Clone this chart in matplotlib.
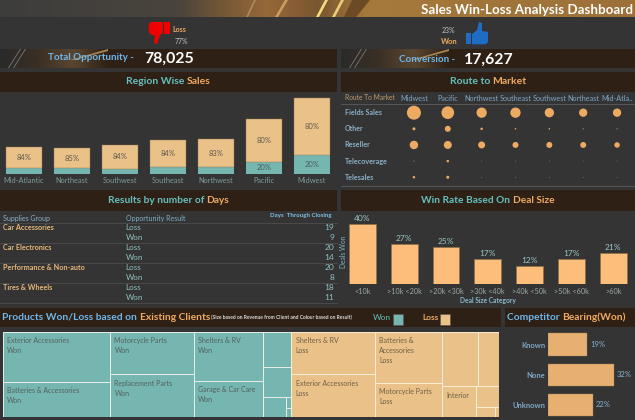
import matplotlib
matplotlib.use("Agg")
import numpy as np
import matplotlib.pyplot as plt
from matplotlib.colors import LinearSegmentedColormap
from matplotlib.patches import Rectangle, Polygon

plt.rcParams["font.family"] = ["Lato", "DejaVu Sans"]

W, H = 635, 420

BG = "#343434"
STRIP = "#2e2015"
TEAL = "#75b6b0"
TAN = "#eac188"
ORANGE = "#f0aa62"
BLUE = "#6fb6ea"
TEALTXT = "#66c0c0"
GREYTXT = "#b9c2c4"

# data
regions = ["Mid-Atlantic", "Northeast", "Southwest", "Southeast", "Northwest", "Pacific", "Midwest"]
region_won = [5.7, 5.7, 5.0, 7.0, 7.0, 12.3, 19.0]
region_loss = [21.6, 20.6, 24.3, 26.7, 27.7, 42.7, 57.3]
region_loss_pct = ["84%", "85%", "84%", "84%", "83%", "80%", "80%"]
region_won_pct = ["", "", "", "", "", "20%", "20%"]

route_cols = ["Midwest", "Pacific", "Northwest", "Southeast", "Southwest", "Northeast", "Mid-Atla.."]
route_rows = ["Fields Sales", "Other", "Reseller", "Telecoverage", "Telesales"]
route_sizes = [
    [14.0, 12.7, 10.3, 10.3, 9.3, 8.3, 8.3],
    [3.0, 6.0, 2.5, 1.5, 1.5, 1.0, 1.0],
    [8.5, 8.0, 7.0, 6.0, 6.0, 6.0, 5.5],
    [1.0, 2.5, 0.7, 0.7, 0.7, 0.7, 0.7],
    [2.5, 3.0, 0.7, 0.7, 0.7, 0.7, 0.7],
]

supply_groups = ["Car Accessories", "Car Electronics", "Performance & Non-auto", "Tires & Wheels"]
days_loss = [19, 20, 20, 18]
days_won = [9, 14, 8, 11]

deal_sizes = ["<10k", ">10k <20k", ">20k <30k", ">30k <40k", ">40k <50k", ">50k <60k", ">60k"]
deal_rates = [40, 27, 25, 17, 12, 17, 21]

competitors = ["Known", "None", "Unknown"]
competitor_rates = [19, 32, 22]

# treemap: columns of revenue, nested lists switch split direction
won_tree = [
    [53.5, 37.5],
    [35.5, 35.5],
    [33.8, 24.8],
    [10.0, 8.6, [4.7, [0.55, 0.45]]],
]
won_labels = ["Exterior Accessories\nWon", "Batteries & Accessories\nWon",
              "Motorcycle Parts\nWon", "Replacement Parts\nWon",
              "Shelters & RV\nWon", "Garage & Car Care\nWon",
              "", "", "", "", ""]
loss_tree = [
    [35.5, 35.5],
    [34.2, 22.8],
    [[19.3, 11.7], [10.2, [4.9, [1.85, 0.38]]]],
]
loss_labels = ["Shelters & RV\nLoss", "Exterior Accessories\nLoss",
               "Batteries &\nAccessories\nLoss", "Motorcycle Parts\nLoss",
               "", "", "Interior", "", "", ""]


def px_axes(x0, y0, x1, y1):
    ax = fig.add_axes([x0 / W, 1 - y1 / H, (x1 - x0) / W, (y1 - y0) / H])
    ax.patch.set_alpha(0)
    for s in ax.spines.values():
        s.set_visible(False)
    ax.tick_params(length=0)
    return ax


def tone_text(parts, x, y, center=False):
    # parts are (text, colour, size, weight)
    r = fig.canvas.get_renderer()
    items = []
    for txt, col, size, weight in parts:
        t = bg.text(x, y, txt, color=col, fontsize=size, fontweight=weight, va="center", ha="left", zorder=4)
        items.append(t)
    widths = [t.get_window_extent(r).width for t in items]
    cx = x - sum(widths) / 2 if center else x
    for t, w in zip(items, widths):
        t.set_x(cx)
        cx += w


def layout(node, x, y, w, h, horizontal, out):
    if not isinstance(node, list):
        out.append((x, y, w, h))
        return
    total = tree_sum(node)
    pos = 0
    for child in node:
        frac = tree_sum(child) / total
        if horizontal:
            layout(child, x + pos * w, y, frac * w, h, False, out)
        else:
            layout(child, x, y + pos * h, w, frac * h, True, out)
        pos += frac


def tree_sum(node):
    if isinstance(node, list):
        return sum(tree_sum(c) for c in node)
    return node


fig = plt.figure(figsize=(W / 100, H / 100), dpi=100, facecolor=BG)
bg = fig.add_axes([0, 0, 1, 1])
bg.set_xlim(0, W)
bg.set_ylim(H, 0)
bg.axis("off")

# banner
banner = LinearSegmentedColormap.from_list("banner", [
    (0.0, "#3d3d3d"), (0.28, "#4a443c"), (0.36, "#7a5a36"), (0.42, "#96683a"),
    (0.5, "#7a5630"), (0.58, "#a67a3c"), (1.0, "#9c7038")])
bg.imshow(np.linspace(0, 1, 300)[None, :], cmap=banner, extent=(0, W, 17.5, 0), aspect="auto", zorder=1)
bg.add_patch(Polygon([(246, 17), (254, 0), (256, 0), (248, 17)], fc="#a88a5a", zorder=2))
bg.add_patch(Polygon([(275, 17), (285, 0), (288, 0), (278, 17)], fc="#c9a060", zorder=2))
bg.add_patch(Polygon([(316, 17), (325, 0), (328, 0), (319, 17)], fc="#f0dc80", zorder=2))
bg.add_patch(Polygon([(332, 17), (341, 0), (344, 0), (335, 17)], fc="#e8cf78", zorder=2))
bg.add_patch(Polygon([(344, 17), (352, 0), (370, 0), (356, 17)], fc="#6b4a24", zorder=2))
bg.text(633, 9.5, "Sales Win-Loss Analysis Dashboard", color="white", fontsize=9.6,
        fontweight="bold", ha="right", va="center", zorder=3)

# strips
strips = [(0, 49, 337, 68), (341, 49, 635, 68), (0, 72, 337, 92), (341, 72, 635, 92),
          (0, 190, 337, 210.5), (341, 190, 635, 210.5), (0, 308, 501, 327), (505, 308, 635, 327)]
for x0, y0, x1, y1 in strips:
    bg.add_patch(Rectangle((x0, y0), x1 - x0, y1 - y0, fc=STRIP, ec="none", zorder=1))

# streak pictures behind the totals
streak = LinearSegmentedColormap.from_list("streak", ["#2a2a2a", "#3a2f24", "#5a4630", "#2e2015"])
for x0 in (0, 341):
    bg.imshow(np.linspace(0, 1, 100)[None, :], cmap=streak, extent=(x0, x0 + 110, 68, 49), aspect="auto", zorder=2)
    bg.add_patch(Polygon([(x0 + 8, 68), (x0 + 20, 49), (x0 + 21, 49), (x0 + 9, 68)], fc="#777777", zorder=3))
    bg.add_patch(Polygon([(x0 + 13, 68), (x0 + 25, 49), (x0 + 26, 49), (x0 + 14, 68)], fc="#777777", zorder=3))
    bg.add_patch(Polygon([(x0 + 70, 60), (x0 + 108, 49), (x0 + 108, 51), (x0 + 74, 60)], fc="#a98550", zorder=3))
bg.set_xlim(0, W)
bg.set_ylim(H, 0)

# thumbs
bg.add_patch(Rectangle((164, 22), 6, 11.5, fc="#f00000", zorder=3))
bg.add_patch(Polygon([(149, 24), (151, 22), (163, 22), (163, 33), (160, 35), (157, 44), (154, 43),
                      (155, 36), (150, 34), (148.5, 30)], fc="#f00000", zorder=3))
bg.add_patch(Rectangle((466, 33), 5, 11.3, fc="#1f6cc4", zorder=3))
bg.add_patch(Polygon([(472, 34), (477, 30), (479, 22), (482, 23), (482, 31), (488, 32), (488, 42),
                      (486, 44.3), (472, 44.3)], fc="#1f6cc4", zorder=3))

bg.text(172, 29.5, "Loss", color=ORANGE, fontsize=5, fontweight="bold", va="center")
bg.text(175, 41, "77%", color=GREYTXT, fontsize=5, va="center")
bg.text(442, 30.5, "23%", color=GREYTXT, fontsize=5, va="center")
bg.text(441, 41, "Won", color=ORANGE, fontsize=5.5, fontweight="bold", va="center")

bg.text(47.5, 58, "Total Opportunity -", color=BLUE, fontsize=7.1, fontweight="bold", va="center", zorder=4)
bg.text(144, 58.5, "78,025", color="white", fontsize=11.4, fontweight="bold", va="center", zorder=4)
bg.text(399, 59.5, "Conversion -", color=BLUE, fontsize=7.1, fontweight="bold", va="center", zorder=4)
bg.text(464, 59.5, "17,627", color="white", fontsize=11.4, fontweight="bold", va="center", zorder=4)

# headers
tone_text([("Region Wise ", TEALTXT, 7.5, "bold"), ("Sales", ORANGE, 7.5, "bold")], 168.5, 82, center=True)
tone_text([("Route to ", TEALTXT, 7.5, "bold"), ("Market", ORANGE, 7.5, "bold")], 488, 82, center=True)
tone_text([("Results by number of ", TEALTXT, 7.3, "bold"), ("Days", ORANGE, 7.3, "bold")], 168.5, 200.5, center=True)
tone_text([("Win Rate Based On ", TEALTXT, 7.3, "bold"), ("Deal Size", ORANGE, 7.3, "bold")], 488, 200.5, center=True)
tone_text([("Products Won/Loss based on ", BLUE, 7.4, "bold"), ("Existing Clients", ORANGE, 7.4, "bold"),
           (" (Size based on Revenue from Client and Colour based on Result)", "#d8d8d8", 3.6, "bold")], 2.5, 317.5)
tone_text([("Competitor ", BLUE, 7.4, "bold"), ("Bearing(Won)", ORANGE, 7.4, "bold")], 507, 317.5)

bg.text(373, 318, "Won", color=TEALTXT, fontsize=6, va="center", zorder=3)
bg.add_patch(Rectangle((392.5, 314), 10.5, 10.5, fc=TEAL, ec="#555555", lw=0.4, zorder=3))
bg.text(422, 318, "Loss", color=ORANGE, fontsize=6, fontweight="bold", va="center", zorder=3)
bg.add_patch(Rectangle((439.7, 314), 10.5, 10.5, fc=TAN, ec="#555555", lw=0.4, zorder=3))

# region bars
ax = px_axes(0, 94, 336, 174)
x = np.arange(len(regions))
ax.bar(x, region_won, 0.75, color=TEAL)
ax.bar(x, region_loss, 0.75, bottom=region_won, color=TAN, edgecolor="#8d7650", linewidth=0.3)
for i in x:
    ax.text(i, region_won[i] + region_loss[i] / 2, region_loss_pct[i], color="#5f5a50", fontsize=5.5, ha="center", va="center")
    ax.text(i, region_won[i] / 2, region_won_pct[i], color="#4d5f5c", fontsize=5.5, ha="center", va="center")
ax.set_xlim(-0.5, 6.5)
ax.set_ylim(0, 80)
ax.set_yticks([])
ax.set_xticks(x, regions, color="#7f9c9a", fontsize=5.3)
ax.tick_params(axis="x", pad=2.5)

# route dots
ax = px_axes(397, 104.6, 634, 185.3)
for r, row in enumerate(route_sizes):
    ax.scatter(range(len(route_cols)), [r] * len(route_cols), s=[(d * 0.72) ** 2 for d in row],
               color="#edaa62", linewidths=0)
    ax.text(-2.05, r, route_rows[r], color="#8ab0c8", fontsize=5.1, fontweight="bold", va="center")
ax.set_xlim(-0.5, 6.5)
ax.set_ylim(4.5, -0.5)
ax.set_yticks([])
ax.xaxis.tick_top()
ax.set_xticks(range(len(route_cols)), route_cols, color="#7fa6c6", fontsize=5.2)
ax.tick_params(axis="x", pad=2)
ax.text(-2.05, -0.97, "Route To Market", color="#c09a6c", fontsize=4.8, va="center")
bg.plot([341, 634], [104.3, 104.3], color="#5c5c5c", lw=0.6, zorder=2)
bg.plot([341, 634], [185.7, 185.7], color="#5c5c5c", lw=0.6, zorder=2)

# days table
bg.text(3.3, 218, "Supplies Group", color="#8ab0c8", fontsize=5.0, va="center")
bg.text(125.5, 218, "Opportunity Result", color="#7fb0c8", fontsize=5.0, va="center")
bg.text(332, 216, "Days  Through Closing", color="#7fc0e0", fontsize=4.4, fontweight="bold", ha="right", va="center")
bg.plot([0, 337], [222.7, 222.7], color="#4e4e4e", lw=0.6, zorder=2)
for i, group in enumerate(supply_groups):
    y = 227.5 + i * 20.1
    bg.text(3.3, y, group, color="#e8b878", fontsize=5.2, fontweight="bold", va="center")
    bg.text(125.5, y, "Loss", color="#8fc0c0", fontsize=5.8, va="center")
    bg.text(125.5, y + 10, "Won", color="#8fc0c0", fontsize=5.8, va="center")
    bg.text(334, y, str(days_loss[i]), color="#8fc0c0", fontsize=6, ha="right", va="center")
    bg.text(334, y + 10, str(days_won[i]), color="#8fc0c0", fontsize=6, ha="right", va="center")
    bg.plot([0, 337], [y + 15.2, y + 15.2], color="#4e4e4e", lw=0.6, zorder=2)

# win rate bars
ax = px_axes(341.4, 212, 634.2, 284.3)
x = np.arange(len(deal_sizes))
bars = ax.bar(x, deal_rates, 0.64, color="#fdbe7c", edgecolor="#8d7040", linewidth=0.4)
ax.bar_label(bars, labels=[f"{v}%" for v in deal_rates], color="#9cc4c4", fontsize=6, padding=1.5)
ax.set_xlim(-0.5, 6.5)
ax.set_ylim(0, 48.2)
ax.set_yticks([])
ax.set_xticks(x, deal_sizes, color="#9aa8a8", fontsize=5.2)
ax.tick_params(axis="x", pad=2.5)
bg.text(488, 300.5, "Deal Size Category", color="#8ab8cc", fontsize=4.8, fontweight="bold", ha="center", va="center")
bg.text(343, 252, "Deals Won", color="#7fb0c8", fontsize=4.8, rotation=90, ha="center", va="center")

# treemap
ax = px_axes(2.7, 331.7, 499, 416.7)
ax.set_xticks([])
ax.set_yticks([])
ax.set_xlim(0, 1)
ax.set_ylim(1, 0)
cells = []
layout(won_tree + loss_tree, 0, 0, 1, 1, True, cells)
names = won_labels + loss_labels
for i, (cx, cy, cw, ch) in enumerate(cells):
    col = TEAL if i < len(won_labels) else TAN
    ax.add_patch(Rectangle((cx, cy), cw, ch, fc=col, ec="#e6efe8" if i < len(won_labels) else "#fbeed8", lw=0.7))
    ax.text(cx + 4.5 / 496.3, cy + 5.5 / 85, names[i], color="#56605c" if i < len(won_labels) else "#6f6048",
            fontsize=5.0, va="top", ha="left", linespacing=1.5)

# competitor bars
ax = px_axes(548, 329.4, 635, 420.1)
y = np.arange(len(competitors))
bars = ax.barh(y, competitor_rates, 0.74, color="#e8b070", edgecolor="#a08050", linewidth=0.3)
ax.bar_label(bars, labels=[f"{v}%" for v in competitor_rates], color="#8ab0cc", fontsize=5.5, padding=2)
ax.set_xlim(0, 42.2)
ax.set_ylim(2.5, -0.5)
ax.set_xticks([])
ax.set_yticks(y, competitors, color="#7fa6c6", fontsize=5.5, fontweight="bold")
ax.tick_params(axis="y", pad=2)

fig.savefig("out.png", dpi=100, facecolor=BG)
